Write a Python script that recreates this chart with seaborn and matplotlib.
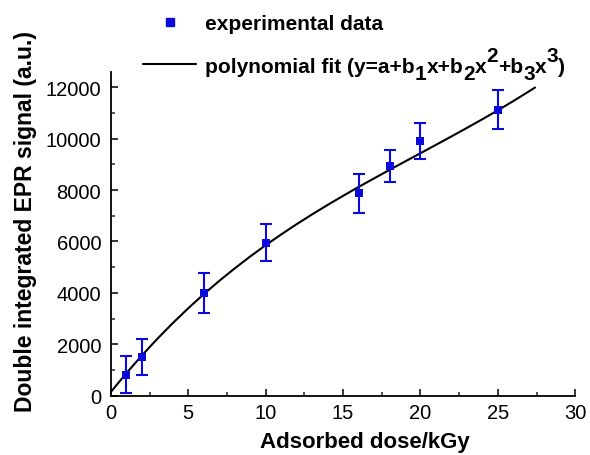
import matplotlib
matplotlib.use("Agg")
import matplotlib.pyplot as plt
from matplotlib.lines import Line2D
from matplotlib.text import Annotation
from matplotlib.ticker import MultipleLocator
import seaborn as sns
import pandas as pd

# ---- data ----
dose = [1, 2, 6, 10, 16, 18, 20, 25]
signal = [820, 1500, 3990, 5950, 7870, 8930, 9910, 11130]
signal_err = [720, 700, 780, 710, 750, 630, 700, 760]

fit_dose = [0, 1, 2, 3, 4, 5, 6, 7, 8, 9, 10, 11, 12, 13, 14, 15, 16, 17,
            18, 19, 20, 21, 22, 23, 24, 25, 26, 27, 27.4]
fit_signal = [150, 878, 1566, 2214, 2826, 3404, 3950, 4466, 4953, 5416, 5855,
              6272, 6671, 7053, 7419, 7774, 8118, 8453, 8782, 9108, 9432, 9756,
              10084, 10415, 10753, 11100, 11460, 11833, 11985]

x_label = "Adsorbed dose/kGy"
y_label = "Double integrated EPR signal (a.u.)"
legend_data = "experimental data"
# fit label pieces: (text, vertical shift: 0 normal, -1 subscript, +1 superscript)
legend_fit = [("polynomial fit (y=a+b", 0), ("1", -1), ("x+b", 0), ("2", -1),
              ("x", 0), ("2", 1), ("+b", 0), ("3", -1), ("x", 0), ("3", 1),
              (")", 0)]

sns.set_style("ticks")
plt.rcParams["font.family"] = ["Liberation Sans", "DejaVu Sans"]
plt.rcParams["text.color"] = "black"
plt.rcParams["axes.labelcolor"] = "black"

blue = "#0a0adc"
FS_LEG = 15

fig = plt.figure(figsize=(5.9, 4.56), dpi=100)
ax = fig.add_axes([0.188, 0.130, 0.787, 0.7105])

df_fit = pd.DataFrame({"dose": fit_dose, "signal": fit_signal})
df_pts = pd.DataFrame({"dose": dose, "signal": signal, "err": signal_err})

sns.lineplot(data=df_fit, x="dose", y="signal", color="black", lw=1.5, ax=ax,
             zorder=2)
ax.errorbar(df_pts["dose"], df_pts["signal"], yerr=df_pts["err"], fmt="none",
            ecolor=blue, elinewidth=1.5, capsize=4.3, capthick=1.5, zorder=3)
sns.scatterplot(data=df_pts, x="dose", y="signal", marker="s", s=32,
                color=blue, edgecolor=blue, linewidth=0, ax=ax, zorder=4)

ax.set_xlim(0, 30)
ax.set_ylim(0, 12600)
ax.xaxis.set_major_locator(MultipleLocator(5))
ax.xaxis.set_minor_locator(MultipleLocator(2.5))
ax.yaxis.set_major_locator(MultipleLocator(2000))
ax.yaxis.set_minor_locator(MultipleLocator(1000))
ax.tick_params(which="major", direction="in", length=5, width=1.1,
               labelsize=14.5, colors="black")
ax.tick_params(axis="y", which="major", pad=7)
ax.tick_params(axis="x", which="major", pad=5)
ax.tick_params(which="minor", direction="in", length=3, width=1.1)
sns.despine(ax=ax)
for s in ("left", "bottom"):
    ax.spines[s].set_linewidth(1.3)
    ax.spines[s].set_color("black")

ax.set_xlabel(x_label, fontsize=16, fontweight="bold")
ax.set_ylabel(y_label, fontsize=16.5, fontweight="bold")
ax.xaxis.set_label_coords(0.548, -0.11)
ax.yaxis.set_label_coords(-0.16, 0.54)

handles = [Line2D([], [], marker="s", color=blue, linestyle="none",
                  markersize=6),
           Line2D([], [], color="black", lw=1.5)]
leg = fig.legend(handles, [legend_data, legend_fit[0][0]], loc="upper left",
                 bbox_to_anchor=(143 / 590, 1 - 15 / 456), frameon=False,
                 prop={"weight": "bold", "size": FS_LEG}, handlelength=2.55,
                 handletextpad=0.43, labelspacing=1.14, borderaxespad=0,
                 borderpad=0)

# remaining pieces of the fit label, with full-size sub/superscripts
shift_px = {0: 0, -1: -7, 1: 11}
prev = leg.get_texts()[1]
prev_shift = 0
for txt, kind in legend_fit[1:]:
    sh = shift_px[kind]
    ann = Annotation(txt, xy=(1, 0), xycoords=prev, xytext=(0, sh - prev_shift),
                     textcoords="offset pixels", ha="left", va="bottom",
                     fontsize=FS_LEG, fontweight="bold", color="black")
    ann.set_zorder(10)
    fig.add_artist(ann)
    prev = ann
    prev_shift = sh

fig.savefig("out.png", dpi=100)
